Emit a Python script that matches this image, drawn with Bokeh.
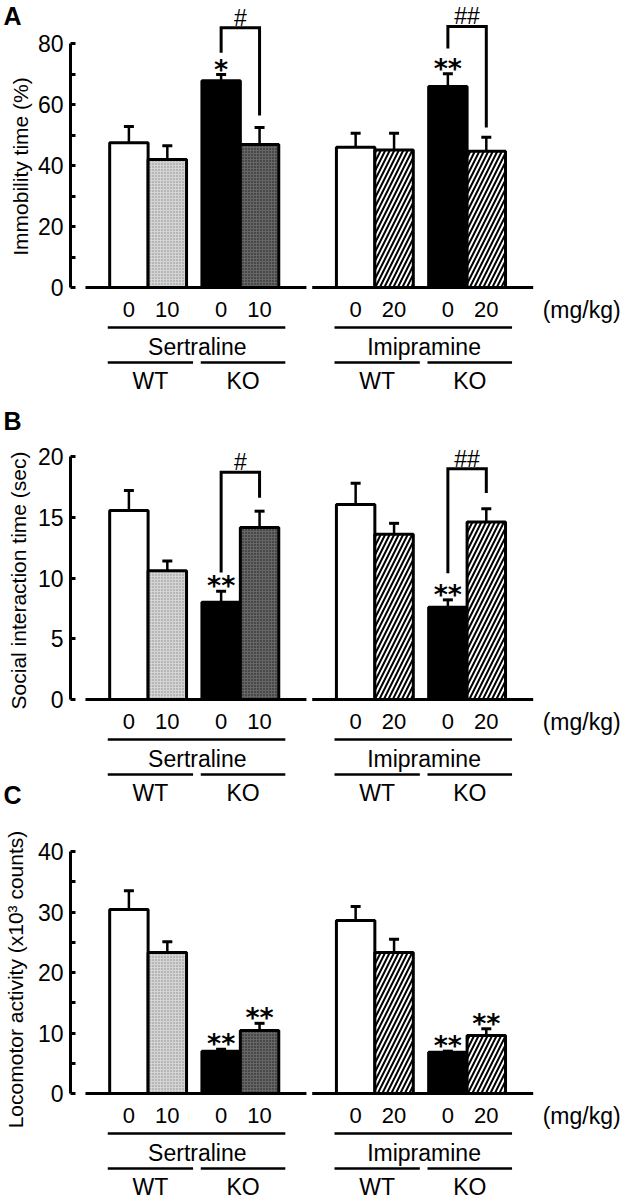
import numpy as np
from bokeh.plotting import figure
from bokeh.layouts import column, row
from bokeh.models import Range1d, FixedTicker
from bokeh.embed import file_html
from bokeh.resources import INLINE
from bokeh.core.properties import value

# ---------------- data ----------------
drugs = ["Sertraline", "Imipramine"]
genotypes = ["WT", "KO"]
doses = {"Sertraline": ["0", "10"], "Imipramine": ["0", "20"]}
dose_unit = "(mg/kg)"

# A: immobility time (%)  order: WT-0, WT-dose, KO-0, KO-dose
imm_sert = [47.5, 42.0, 67.8, 46.9]
imm_sert_sem = [5.3, 4.5, 2.0, 5.6]
imm_imi = [46.0, 45.1, 65.9, 44.7]
imm_imi_sem = [4.6, 5.5, 4.2, 4.6]
imm_stars = {"Sertraline": ["", "", "*", ""], "Imipramine": ["", "", "**", ""]}
imm_hash = {"Sertraline": "#", "Imipramine": "##"}

# B: social interaction time (sec)
soc_sert = [15.55, 10.6, 8.0, 14.15]
soc_sert_sem = [1.65, 0.8, 0.9, 1.35]
soc_imi = [16.05, 13.6, 7.6, 14.6]
soc_imi_sem = [1.75, 0.9, 0.6, 1.1]
soc_stars = {"Sertraline": ["", "", "**", ""], "Imipramine": ["", "", "**", ""]}
soc_hash = {"Sertraline": "#", "Imipramine": "##"}

# C: locomotor activity (x10^3 counts)
loc_sert = [30.4, 23.3, 7.0, 10.4]
loc_sert_sem = [3.1, 1.8, 0.3, 1.2]
loc_imi = [28.6, 23.3, 6.8, 9.6]
loc_imi_sem = [2.3, 2.2, 0.2, 1.1]
loc_stars = {"Sertraline": ["", "", "**", "**"], "Imipramine": ["", "", "**", "**"]}

# ---------------- layout ----------------
LW = 34            # width of left strip holding panel letters and y titles
W = 628 - LW       # main figure width
LEFT = 35          # border left of main frame (y tick labels)
PX_PER_BAR = 38.5
FIRST_BAR_PAGE = 127.5
FRAME_LEFT_PAGE = LW + LEFT
PAIR_STEP = 2.4
DRUG_STEP = 5.9
x_start = (FRAME_LEFT_PAGE - FIRST_BAR_PAGE) / PX_PER_BAR
x_end = x_start + (W - LEFT) / PX_PER_BAR

FONT = "Liberation Sans"


def xpage(px):
    return x_start + (px - FRAME_LEFT_PAGE) / PX_PER_BAR


def bar_positions(i):
    return [i * DRUG_STEP + g * PAIR_STEP + k for g in range(2) for k in range(2)]


styles = {
    "Sertraline": [
        dict(fill_color="white"),
        dict(fill_color="#d4d4d4", hatch_pattern=".", hatch_scale=3, hatch_color="#8a8a8a", hatch_weight=1),
        dict(fill_color="black"),
        dict(fill_color="#666666", hatch_pattern=".", hatch_scale=3, hatch_color="#1a1a1a", hatch_weight=1),
    ],
    "Imipramine": [
        dict(fill_color="white"),
        dict(fill_color="white", hatch_pattern="/", hatch_scale=9, hatch_color="black", hatch_weight=2),
        dict(fill_color="black"),
        dict(fill_color="white", hatch_pattern="/", hatch_scale=9, hatch_color="black", hatch_weight=2),
    ],
}


def bare(p):
    p.outline_line_color = None
    p.xgrid.visible = False
    p.ygrid.visible = False
    p.background_fill_color = "white"
    p.border_fill_color = "white"


def left_strip(H, page_top, title, title_c, letters):
    q = figure(width=LW, height=H, x_range=Range1d(0, LW), y_range=Range1d(page_top + H, page_top),
               output_backend="svg", toolbar_location=None, x_axis_location=None,
               y_axis_location=None, min_border=0, min_border_left=0, min_border_right=0,
               min_border_top=0, min_border_bottom=0)
    bare(q)
    q.text(x=[title_c[0]], y=[title_c[1]], text=[title], angle=np.pi / 2,
           text_font=value(FONT), text_font_size="21px", text_align="center",
           text_baseline="middle", text_color="black")
    for letter, lx, ly in letters:
        q.text(x=[lx], y=[ly], text=[letter], text_font=value(FONT), text_font_size="25px",
               text_font_style="bold", text_align="left", text_baseline="middle",
               text_color="black")
    return q


def panel(H, page_top, page_y0, page_ytop, vtop, major, minor, series, stars,
          brackets, hashes):
    ppu = (page_y0 - page_ytop) / vtop
    y_start = -(page_top + H - page_y0) / ppu
    y_end = vtop + (page_ytop - page_top) / ppu

    def yv(px):
        return (page_y0 - px) / ppu

    p = figure(width=W, height=H, x_range=Range1d(x_start, x_end),
               y_range=Range1d(y_start, y_end), output_backend="svg",
               toolbar_location=None, x_axis_location=None,
               min_border_left=LEFT, min_border_right=0,
               min_border_top=0, min_border_bottom=0)
    bare(p)

    ax = p.yaxis[0]
    ax.bounds = (0, vtop)
    ax.ticker = FixedTicker(ticks=major, minor_ticks=minor)
    ax.major_tick_in = 5
    ax.major_tick_out = 0
    ax.minor_tick_in = 5
    ax.minor_tick_out = 0
    ax.axis_line_width = 3
    ax.major_tick_line_width = 3
    ax.minor_tick_line_width = 3
    ax.major_label_text_font = FONT
    ax.major_label_text_font_size = "23px"
    ax.major_label_text_color = "black"
    ax.major_label_standoff = 7

    for i, drug in enumerate(drugs):
        means, sems = series[drug]
        xs = bar_positions(i)
        tops = [m + s for m, s in zip(means, sems)]
        # error bars
        p.segment(x0=xs, y0=means, x1=xs, y1=tops, line_color="black", line_width=2.5)
        p.segment(x0=[x - 0.13 for x in xs], y0=tops, x1=[x + 0.13 for x in xs], y1=tops,
                  line_color="black", line_width=3)
        # bars
        for k in range(4):
            p.vbar(x=[xs[k]], top=[means[k]], bottom=0, width=1.0,
                   line_color="black", line_width=3, **styles[drug][k])
        # baseline (x axis segment)
        p.segment(x0=[xs[0] - 1.13], y0=[0], x1=[xs[-1] + 1.22], y1=[0],
                  line_color="black", line_width=3)
        # significance stars
        sx = [x for x, s in zip(xs, stars[drug]) if s]
        sy = [t + 5.5 / ppu for t, s in zip(tops, stars[drug]) if s]
        st = [s for s in stars[drug] if s]
        if st:
            p.text(x=sx, y=sy, text=st, text_font=value("DejaVu Sans"),
                   text_font_size="27px", text_font_style="bold",
                   text_align="center", text_baseline="alphabetic", text_color="black")
        # bracket
        if brackets is not None:
            btop, bl, br = brackets[drug]
            p.line(x=[xs[2], xs[2], xs[3], xs[3]], y=[bl, btop, btop, br],
                   line_color="black", line_width=3, line_join="miter")
            p.text(x=[(xs[2] + xs[3]) / 2], y=[btop + 10 / ppu], text=[hashes[drug]],
                   text_font=value(FONT), text_font_size="23px",
                   text_align="center", text_baseline="middle", text_color="black")
        # category labels below
        p.text(x=xs, y=[yv(page_y0 + 22)] * 4, text=doses[drug] * 2,
               text_font=value(FONT), text_font_size="22px", text_align="center",
               text_baseline="middle", text_color="black")
        p.segment(x0=[xs[0] - 0.55], y0=[yv(page_y0 + 40)], x1=[xs[-1] + 0.67],
                  y1=[yv(page_y0 + 40)], line_color="black", line_width=2.5)
        p.text(x=[(xs[0] + xs[-1]) / 2 + 0.08], y=[yv(page_y0 + 59)], text=[drug],
               text_font=value(FONT), text_font_size="23px", text_align="center",
               text_baseline="middle", text_color="black")
        mid = (xs[1] + xs[2]) / 2 + 0.07
        l2 = [(xs[0] - 0.55, mid - 0.1), (mid + 0.1, xs[-1] + 0.67)]
        p.segment(x0=[a for a, b in l2], y0=[yv(page_y0 + 75)] * 2,
                  x1=[b for a, b in l2], y1=[yv(page_y0 + 75)] * 2,
                  line_color="black", line_width=2.5)
        p.text(x=[(a + b) / 2 for a, b in l2], y=[yv(page_y0 + 93)] * 2, text=genotypes,
               text_font=value(FONT), text_font_size="23px", text_align="center",
               text_baseline="middle", text_color="black")

    p.text(x=[xpage(542)], y=[yv(page_y0 + 22)], text=[dose_unit],
           text_font=value(FONT), text_font_size="23px", text_align="left",
           text_baseline="middle", text_color="black")
    return p


HA, HB, HC = 393, 418, 388
TOP_B = HA
TOP_C = HA + HB

pA = panel(HA, 0, 287, 43, 80, [0, 20, 40, 60, 80], [10, 30, 50, 70],
           {"Sertraline": (imm_sert, imm_sert_sem), "Imipramine": (imm_imi, imm_imi_sem)},
           imm_stars,
           {"Sertraline": (85.2, 77.0, 56.4), "Imipramine": (85.6, 78.4, 52.5)},
           imm_hash)
lA = left_strip(HA, 0, "Immobility time (%)", (20, 166), [("A", 3, 15)])

pB = panel(HB, TOP_B, 699, 456, 20, [0, 5, 10, 15, 20], [],
           {"Sertraline": (soc_sert, soc_sert_sem), "Imipramine": (soc_imi, soc_imi_sem)},
           soc_stars,
           {"Sertraline": (18.7, 10.45, 16.6), "Imipramine": (19.0, 10.4, 17.0)},
           soc_hash)
lB = left_strip(HB, TOP_B, "Social interaction time (sec)", (17.5, 580),
                [("B", 3, 420), ("C", 3, 794)])

pC = panel(HC, TOP_C, 1093, 851, 40, [0, 10, 20, 30, 40], [5, 15, 25, 35],
           {"Sertraline": (loc_sert, loc_sert_sem), "Imipramine": (loc_imi, loc_imi_sem)},
           loc_stars, None, None)
lC = left_strip(HC, TOP_C, "Locomotor activity (x10\u00b3 counts)", (15, 979), [])

layout = column(row(lA, pA, spacing=0), row(lB, pB, spacing=0), row(lC, pC, spacing=0),
                spacing=0)
open("out.html", "w").write(file_html(layout, INLINE))
